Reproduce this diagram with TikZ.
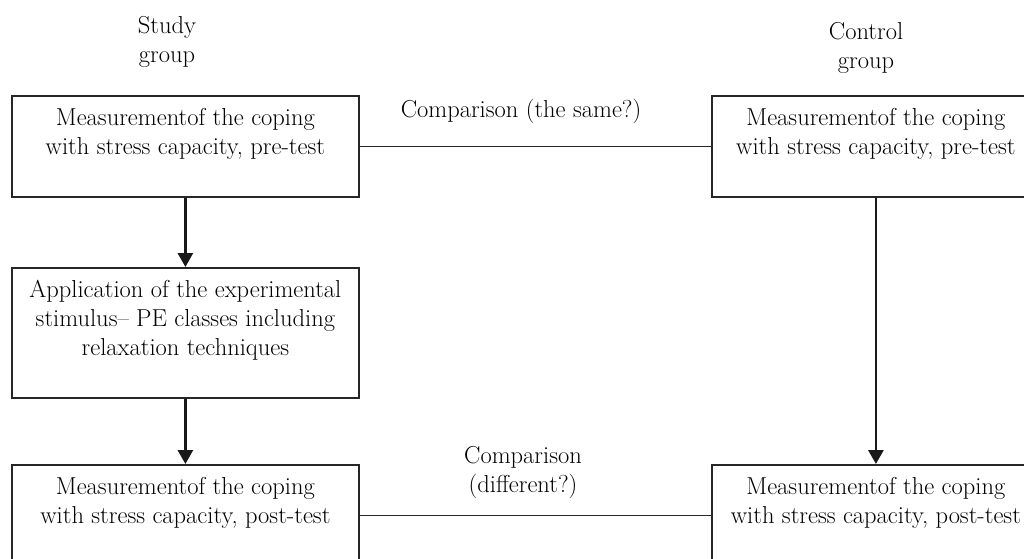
\documentclass[tikz,border=0pt]{standalone}
\usepackage{tikz}
\usetikzlibrary{arrows.meta}

\begin{document}
\begin{tikzpicture}[x=1pt,y=-1pt,
font=\fontsize{24.5}{29}\selectfont,
box/.style={%
anchor=north west,
draw=black!85,
line width=1.8pt,
minimum height=101pt,
minimum width=347pt,
inner sep=0pt,
},
boxtxt/.style={%
anchor=north,
align=center,
inner sep=0pt,
yshift=-13pt,
},
head/.style={%
align=center,
inner sep=0pt,
},
flow/.style={%
line width=2.8pt,
draw=black!90,
-{Triangle[length=14pt,width=15pt]},
},
cmp/.style={%
line width=1.5pt,
draw=black!85,
},
]
\useasboundingbox(0,0)rectangle(1024,558);
\clip(0,0)rectangle(1024,558);
%% groups
\node[head,anchor=north]at(167,16)(sg){Study\\group};
\node[head,anchor=north]at(866,22)(cg){Control\\group};
%% study group
\node[box,label={[boxtxt,name=pre1t]north:{Measurementof the coping\\with stress capacity, pre-test}}]at(11,95)(pre1){};
\node[box,minimum height=130pt,label={[boxtxt,name=appt]north:{Application of the experimental\\stimulus-- PE classes including\\relaxation techniques}}]at(11,267)(app){};
\node[box,label={[boxtxt,name=post1t]north:{Measurementof the coping\\with stress capacity, post-test}}]at(11,464)(post1){};
%% control group
\node[box,minimum width=328pt,label={[boxtxt,name=pre2t]north:{Measurementof the coping\\with stress capacity, pre-test}}]at(711,95)(pre2){};
\node[box,minimum width=328pt,label={[boxtxt,name=post2t]north:{Measurementof the coping\\with stress capacity, post-test}}]at(711,464)(post2){};
%% comparisons
\node[head,anchor=base]at(521,117)(same){Comparison (the same?)};
\node[head,anchor=north]at(523,446)(diff){Comparison\\(different?)};
\draw[cmp](pre1.east)--(pre2.west);
\draw[cmp](post1.east)--(post2.west);
%% flow
\draw[flow](pre1.south)--(app.north);
\draw[flow](app.south)--(post1.north);
\draw[flow](pre2.south)--(post2.north);
\end{tikzpicture}
\end{document}
